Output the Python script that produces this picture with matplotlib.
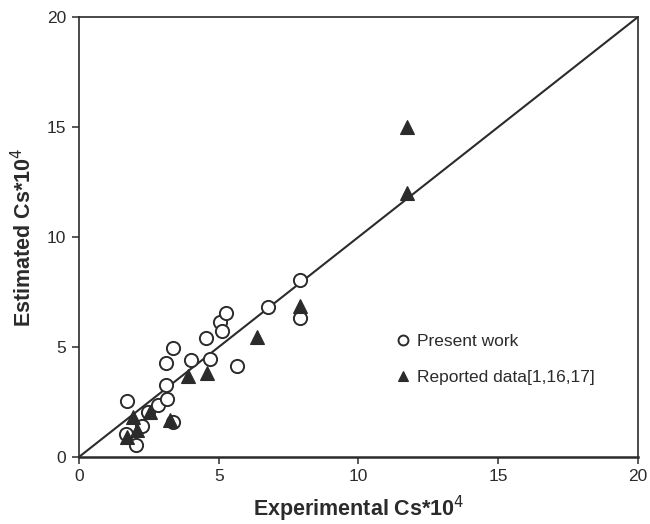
import matplotlib
matplotlib.use("Agg")
import matplotlib.pyplot as plt

plt.rcParams['font.family'] = ['Liberation Sans', 'DejaVu Sans']

# Present work: experimental vs estimated solubility (Cs*10^4)
present_exp = [1.67, 1.73, 2.04, 2.24, 2.46, 2.84, 3.12, 3.14, 3.12, 3.36, 3.38,
               4.01, 4.55, 4.70, 5.05, 5.10, 5.27, 5.67, 6.76, 7.92, 7.92]
present_est = [1.05, 2.56, 0.54, 1.42, 2.06, 2.36, 3.27, 2.62, 4.26, 4.94, 1.60,
               4.41, 5.42, 4.44, 6.12, 5.71, 6.53, 4.15, 6.80, 8.05, 6.30]

# Reported data [1,16,17]
reported_exp = [1.71, 1.95, 2.09, 2.54, 3.24, 3.89, 4.58, 6.37, 7.92, 11.73, 11.73]
reported_est = [0.92, 1.83, 1.23, 2.05, 1.68, 3.68, 3.83, 5.44, 6.88, 15.0, 12.0]

ticks = [0, 5, 10, 15, 20]
dark = '#2b2b2b'

fig = plt.figure(figsize=(6.5, 5.24), dpi=100)
ax = fig.add_axes([0.1215, 0.1279, 0.86, 0.8397])

ax.plot([0, 20], [0, 20], color=dark, lw=1.5, zorder=1)
ax.plot(present_exp, present_est, linestyle='none', marker='o', ms=9.5,
        mfc='white', mec=dark, mew=1.4, label='Present work', zorder=2)
ax.plot(reported_exp, reported_est, linestyle='none', marker='^', ms=10,
        mfc=dark, mec=dark, mew=0.8, label='Reported data[1,16,17]', zorder=3)

ax.set_xlim(0, 20)
ax.set_ylim(0, 20)
ax.set_xticks(ticks)
ax.set_yticks(ticks)
ax.tick_params(direction='out', length=5, width=1.1, colors=dark,
               labelsize=12.5, pad=4)
for s in ax.spines.values():
    s.set_color(dark)
    s.set_linewidth(1.2)
ax.spines['bottom'].set_linewidth(1.8)

ax.set_xlabel('Experimental Cs*10$^4$', fontsize=15.5, fontweight='bold',
              color=dark, labelpad=7)
ax.set_ylabel('Estimated Cs*10$^4$', fontsize=15.5, fontweight='bold',
              color=dark, labelpad=8)

leg = ax.legend(loc='upper left', bbox_to_anchor=(0.5425, 0.315), frameon=False,
                fontsize=12.5, handlelength=0.6, handletextpad=0.5,
                labelspacing=1.2, markerscale=0.75)
for t in leg.get_texts():
    t.set_color(dark)

fig.savefig('out.png', dpi=100, facecolor='white')
